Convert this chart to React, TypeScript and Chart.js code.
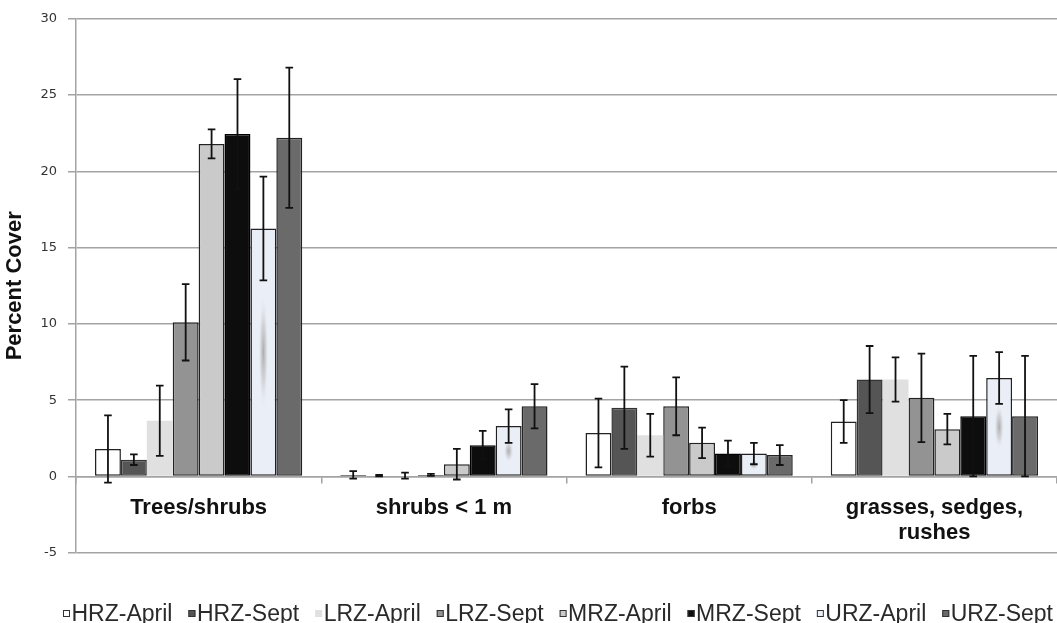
import React, { useEffect, useRef } from "react";
import { Chart, registerables } from "chart.js";

Chart.register(...registerables);

// ---- data ----
const categories: (string | string[])[] = [
  "Trees/shrubs",
  "shrubs < 1 m",
  "forbs",
  ["grasses, sedges,", "rushes"],
];

const yTicks = [-5, 0, 5, 10, 15, 20, 25, 30];

const hrzApril = [1.8, 0.1, 2.85, 3.6];
const hrzAprilErr = [2.2, 0.25, 2.25, 1.4];
const hrzSept = [1.1, 0.05, 4.5, 6.35];
const hrzSeptErr = [0.35, 0.05, 2.7, 2.2];
const lrzApril = [3.65, 0.05, 2.7, 6.35];
const lrzAprilErr = [2.3, 0.2, 1.4, 1.45];
const lrzSept = [10.1, 0.1, 4.6, 5.15];
const lrzSeptErr = [2.5, 0.07, 1.9, 2.9];
const mrzApril = [21.8, 0.8, 2.2, 3.1];
const mrzAprilErr = [0.95, 1.0, 1.0, 1.0];
const mrzSept = [22.45, 2.05, 1.5, 3.95];
const mrzSeptErr = [3.6, 0.93, 0.85, 3.95];
const urzApril = [16.25, 3.3, 1.5, 6.45];
const urzAprilErr = [3.4, 1.1, 0.7, 1.7];
const urzSept = [22.2, 4.6, 1.4, 3.95];
const urzSeptErr = [4.6, 1.45, 0.65, 3.95];

const seriesNames = [
  "HRZ-April",
  "HRZ-Sept",
  "LRZ-April",
  "LRZ-Sept",
  "MRZ-April",
  "MRZ-Sept",
  "URZ-April",
  "URZ-Sept",
];
const seriesValues = [hrzApril, hrzSept, lrzApril, lrzSept, mrzApril, mrzSept, urzApril, urzSept];
const seriesErrors = [
  hrzAprilErr,
  hrzSeptErr,
  lrzAprilErr,
  lrzSeptErr,
  mrzAprilErr,
  mrzSeptErr,
  urzAprilErr,
  urzSeptErr,
];

// ---- styles ----
const fills = ["#ffffff", "#555555", "#e0e0e0", "#939393", "#cacaca", "#0d0d0d", "#eaeef6", "#6a6a6a"];
const borders = ["#222222", "#333333", "rgba(0,0,0,0)", "#222222", "#222222", "#000000", "#222222", "#222222"];
const borderWidths = [1.5, 1.5, 0, 1.5, 1.5, 1.5, 1.5, 1.5];
const shadedSeries = 6; // URZ-April has a soft grey streak in its fill

const GRID = "#a3a3a3";

export default function App() {
  const ref = useRef<HTMLCanvasElement>(null);

  useEffect(() => {
    if (!ref.current) return;

    const streakPlugin = {
      id: "streak",
      afterDatasetDraw(chart: any, args: any) {
        if (args.index !== shadedSeries) return;
        const ctx = chart.ctx;
        const meta = chart.getDatasetMeta(shadedSeries);
        meta.data.forEach((bar: any) => {
          const top = Math.min(bar.y, bar.base);
          const h = Math.abs(bar.base - bar.y);
          if (h < 6) return;
          const cy = top + h * 0.5;
          const ry = Math.max(h * 0.24, 4);
          const rx = 5;
          ctx.save();
          ctx.beginPath();
          ctx.rect(bar.x - bar.width / 2 + 1, top + 1, bar.width - 2, h - 2);
          ctx.clip();
          ctx.translate(bar.x, cy);
          ctx.scale(1, ry / rx);
          const g = ctx.createRadialGradient(0, 0, 0, 0, 0, rx);
          g.addColorStop(0, "rgba(150,150,150,0.75)");
          g.addColorStop(0.5, "rgba(180,180,182,0.45)");
          g.addColorStop(1, "rgba(234,238,246,0)");
          ctx.fillStyle = g;
          ctx.beginPath();
          ctx.arc(0, 0, rx, 0, Math.PI * 2);
          ctx.fill();
          ctx.restore();
        });
      },
    };

    const errorBarPlugin = {
      id: "errorBars",
      afterDatasetsDraw(chart: any) {
        const ctx = chart.ctx;
        const ys = chart.scales.y;
        ctx.save();
        ctx.strokeStyle = "#111111";
        ctx.lineWidth = 1.8;
        chart.data.datasets.forEach((ds: any, i: number) => {
          const meta = chart.getDatasetMeta(i);
          meta.data.forEach((bar: any, j: number) => {
            const v = ds.data[j];
            const e = ds.errors[j];
            const x = bar.x;
            const yt = ys.getPixelForValue(v + e);
            const yb = ys.getPixelForValue(v - e);
            const cap = 3.8;
            ctx.beginPath();
            ctx.moveTo(x, yt);
            ctx.lineTo(x, yb);
            ctx.moveTo(x - cap, yt);
            ctx.lineTo(x + cap, yt);
            ctx.moveTo(x - cap, yb);
            ctx.lineTo(x + cap, yb);
            ctx.stroke();
          });
        });
        ctx.restore();
      },
    };

    const legendPlugin = {
      id: "bottomLegend",
      afterDraw(chart: any) {
        const ctx = chart.ctx;
        const left = 63;
        const right = 1053;
        const cy = 613.5;
        const box = 7;
        const gap = 1.5;
        ctx.save();
        ctx.font = '23px "Liberation Sans", Arial, sans-serif';
        ctx.textBaseline = "middle";
        ctx.textAlign = "left";
        const ds = chart.data.datasets;
        const widths = ds.map((d: any) => box + gap + ctx.measureText(d.label).width);
        const total = widths.reduce((a: number, b: number) => a + b, 0);
        const spacing = (right - left - total) / (ds.length - 1);
        let x = left;
        ds.forEach((d: any, i: number) => {
          ctx.fillStyle = d.backgroundColor;
          ctx.fillRect(x, cy - box / 2, box, box);
          if (d.borderWidth > 0) {
            ctx.strokeStyle = "#333333";
            ctx.lineWidth = 1;
            ctx.strokeRect(x + 0.5, cy - box / 2 + 0.5, box - 1, box - 1);
          }
          ctx.fillStyle = "#2a2a2a";
          ctx.fillText(d.label, x + box + gap, cy + 1);
          x += widths[i] + spacing;
        });
        ctx.restore();
      },
    };

    const chart = new Chart(ref.current, {
      type: "bar",
      data: {
        labels: categories,
        datasets: seriesNames.map((name, i) => ({
          label: name,
          data: seriesValues[i],
          errors: seriesErrors[i],
          backgroundColor: fills[i],
          borderColor: borders[i],
          borderWidth: borderWidths[i],
          borderSkipped: false,
          categoryPercentage: 0.845,
          barPercentage: 1,
        })) as any,
      },
      options: {
        animation: false,
        responsive: false,
        devicePixelRatio: 1,
        layout: { padding: { top: 11.7, bottom: 70.3, left: 0, right: 0 } },
        plugins: {
          legend: { display: false },
          tooltip: { enabled: false },
        },
        scales: {
          x: {
            position: { y: 0 } as any,
            grid: {
              display: true,
              drawOnChartArea: false,
              drawTicks: true,
              tickLength: 6,
              color: GRID,
              lineWidth: 1.5,
              offset: true,
            },
            border: { display: true, color: GRID, width: 1.5 },
            ticks: {
              font: { family: '"Liberation Sans", Arial, sans-serif', size: 22, weight: "bold", lineHeight: 1.15 },
              color: "#111111",
              padding: 13,
              maxRotation: 0,
              autoSkip: false,
            },
          },
          y: {
            min: yTicks[0],
            max: yTicks[yTicks.length - 1],
            afterBuildTicks: (scale: any) => {
              scale.ticks = yTicks.map((v) => ({ value: v }));
            },
            afterFit: (scale: any) => {
              scale.width = 76;
            },
            ticks: {
              font: { family: '"DejaVu Sans", Verdana, sans-serif', size: 13 },
              color: "#333333",
              padding: 11,
            },
            grid: { color: GRID, lineWidth: 1.5, tickLength: 8, drawTicks: true },
            border: { display: true, color: GRID, width: 1.5 },
            title: {
              display: true,
              text: "Percent Cover",
              font: { family: '"Liberation Sans", Arial, sans-serif', size: 22, weight: "bold" },
              color: "#111111",
              padding: { top: 2, bottom: 0 },
            },
          },
        },
      } as any,
      plugins: [streakPlugin, errorBarPlugin, legendPlugin],
    });

    return () => chart.destroy();
  }, []);

  return (
    <div style={{ position: "absolute", left: 0, top: 0, width: 1057, height: 623, background: "#ffffff" }}>
      <canvas ref={ref} width={1057} height={623} style={{ display: "block" }} />
    </div>
  );
}
